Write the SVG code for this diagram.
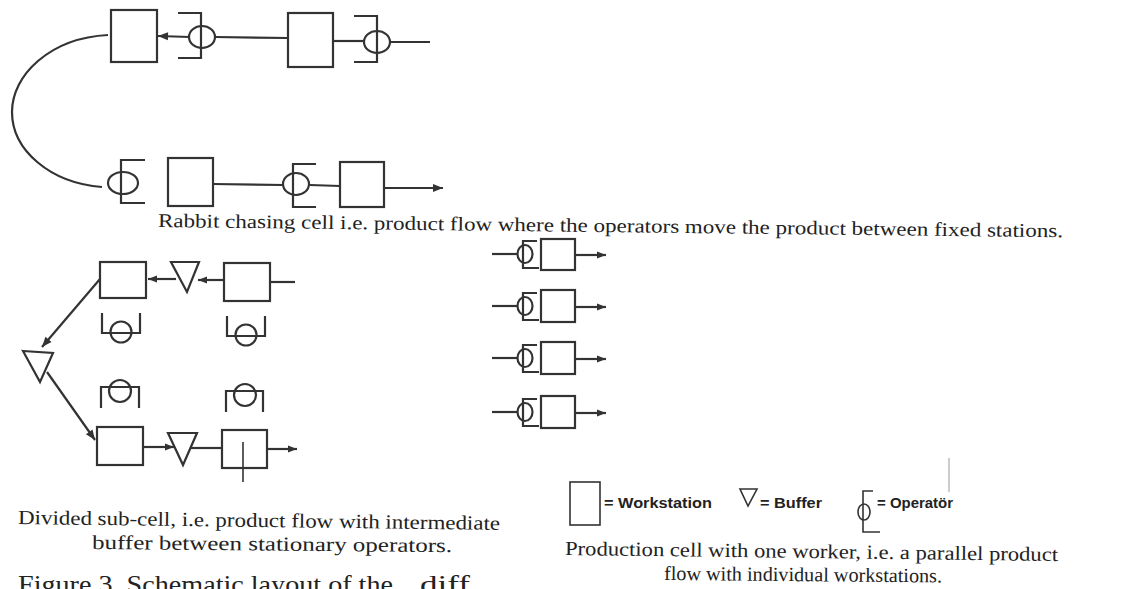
<svg xmlns="http://www.w3.org/2000/svg" width="1121" height="589" viewBox="0 0 1121 589">
<style>
.s{fill:none;stroke:#333;stroke-width:2.2;stroke-linejoin:miter}
.t{fill:none;stroke:#333;stroke-width:1.6}
.cap{font-family:"Liberation Serif",serif;fill:#222}
.leg{font-family:"Liberation Sans",sans-serif;font-weight:bold;font-size:14px;fill:#222}
</style>
<defs>
<marker id="ah" viewBox="0 0 10 10" refX="10" refY="5" markerWidth="19" markerHeight="10" markerUnits="userSpaceOnUse" orient="auto"><path d="M0,1 L10,5 L0,9 z" fill="#333"/></marker>
<marker id="ahs" viewBox="0 0 10 10" refX="10" refY="5" markerWidth="15" markerHeight="9" markerUnits="userSpaceOnUse" orient="auto"><path d="M0,1 L10,5 L0,9 z" fill="#333"/></marker>
</defs>
<rect width="1121" height="589" fill="#fff"/>
<!-- Rabbit chasing cell -->
<g id="ws1"><rect class="s" x="111" y="10" width="46" height="52"/></g>
<g id="op1"><ellipse class="s" cx="202" cy="37" rx="13" ry="11"/><path class="s" d="M178,13 H201 V58 H178"/></g>
<g id="ws2"><rect class="s" x="288" y="13" width="45" height="54"/></g>
<g id="op2"><ellipse class="s" cx="377" cy="42" rx="13" ry="11"/><path class="s" d="M354,16 H377 V62 H354"/></g>
<g id="op3"><ellipse class="s" cx="123" cy="183" rx="15" ry="11"/><path class="s" d="M145,160 H121 V203 H145"/></g>
<g id="ws3"><rect class="s" x="168" y="158" width="45" height="48"/></g>
<g id="op4"><ellipse class="s" cx="296" cy="184" rx="13" ry="11"/><path class="s" d="M316,164 H293 V207 H316"/></g>
<g id="ws4"><rect class="s" x="340" y="162" width="44" height="45"/></g>
<!-- Divided sub-cell -->
<g id="wsA"><rect class="s" x="100" y="262" width="46" height="36"/></g>
<g id="bufA"><polygon class="s" points="171,262 199,262 187,292"/></g>
<g id="wsB"><rect class="s" x="224" y="263" width="46" height="38"/></g>
<g id="opA"><path class="s" d="M102,313 V333 H140 V313"/><circle class="s" cx="121" cy="332" r="10.5"/></g>
<g id="opB"><path class="s" d="M227,316 V336 H265 V316"/><circle class="s" cx="246" cy="335" r="10.5"/></g>
<g id="bufL"><polygon class="s" points="23,351 53,353 40,382"/></g>
<g id="opC"><path class="s" d="M101,408 V387 H139 V408"/><circle class="s" cx="120" cy="391" r="11"/></g>
<g id="opD"><path class="s" d="M226,412 V391 H263 V412"/><circle class="s" cx="245" cy="395" r="11"/></g>
<g id="wsC"><rect class="s" x="97" y="427" width="46" height="38"/></g>
<g id="bufC"><polygon class="s" points="168,433 197,433 183,465"/></g>
<g id="wsD"><rect class="s" x="222" y="430" width="45" height="38"/><path class="t" d="M243,442 V482"/></g>
<!-- Production cell with one worker -->
<g id="op5"><ellipse class="s" cx="525" cy="254" rx="7.5" ry="9"/><path class="s" d="M537,241 H523 V268 H539"/></g>
<g id="ws5"><rect class="s" x="541" y="239" width="34" height="31"/></g>
<g id="op6"><ellipse class="s" cx="525" cy="306" rx="7.5" ry="9"/><path class="s" d="M537,293 H523 V320 H539"/></g>
<g id="ws6"><rect class="s" x="541" y="290" width="34" height="32"/></g>
<g id="op7"><ellipse class="s" cx="525" cy="358" rx="7.5" ry="9"/><path class="s" d="M537,345 H523 V372 H539"/></g>
<g id="ws7"><rect class="s" x="541" y="342" width="34" height="32"/></g>
<g id="op8"><ellipse class="s" cx="525" cy="412" rx="7.5" ry="9"/><path class="s" d="M537,399 H523 V426 H539"/></g>
<g id="ws8"><rect class="s" x="541" y="396" width="34" height="32"/></g>
<!-- connectors -->
<g id="connectors">
<path class="s" d="M190,37 L158,36" marker-end="url(#ah)"/>
<path class="s" d="M215,37 L288,38"/>
<path class="s" d="M333,41 L364,41"/>
<path class="s" d="M390,42 L430,42"/>
<path class="s" d="M108,35 C50,38 12,75 12,112 C12,150 50,183 102,187"/>
<path class="s" d="M213,184 L283,185"/>
<path class="s" d="M310,185 L340,186"/>
<path class="s" d="M384,188 L443,188" marker-end="url(#ah)"/>
<path class="s" d="M176,279 L148,279" marker-end="url(#ahs)"/>
<path class="s" d="M224,280 L198,280" marker-end="url(#ahs)"/>
<path class="s" d="M270,282 L295,282"/>
<path class="s" d="M100,279 L42,347" marker-end="url(#ah)"/>
<path class="s" d="M47,372 L95,440" marker-end="url(#ah)"/>
<path class="s" d="M143,447 L174,447" marker-end="url(#ahs)"/>
<path class="s" d="M191,448 L222,448"/>
<path class="s" d="M267,449 L297,449" marker-end="url(#ahs)"/>
<path class="s" d="M492,254 L517,254"/><path class="s" d="M575,255 L606,255" marker-end="url(#ahs)"/>
<path class="s" d="M492,306 L517,306"/><path class="s" d="M575,307 L606,307" marker-end="url(#ahs)"/>
<path class="s" d="M492,358 L517,358"/><path class="s" d="M575,359 L606,359" marker-end="url(#ahs)"/>
<path class="s" d="M492,412 L517,412"/><path class="s" d="M575,413 L606,413" marker-end="url(#ahs)"/>
</g>
<!-- legend -->
<g id="legend">
<rect class="t" x="570" y="482" width="30" height="43"/>
<text class="leg" x="604" y="508" textLength="108" lengthAdjust="spacingAndGlyphs">= Workstation</text>
<polygon class="t" points="740,489 757,489 748,506"/>
<text class="leg" x="760" y="508" textLength="62" lengthAdjust="spacingAndGlyphs">= Buffer</text>
<path class="t" d="M873,491 H863 V532 H880"/><ellipse class="t" cx="864" cy="512" rx="6" ry="8"/>
<text class="leg" x="877" y="508" textLength="76" lengthAdjust="spacingAndGlyphs">= Operatör</text>
<path d="M949,458 V492" stroke="#999" stroke-width="1"/>
</g>
<!-- captions -->
<text class="cap" x="158" y="227" font-size="19.5" textLength="905" lengthAdjust="spacingAndGlyphs" transform="rotate(0.65 158 227)">Rabbit chasing cell i.e. product flow where the operators move the product between fixed stations.</text>
<text class="cap" x="18" y="524" font-size="20" textLength="482" lengthAdjust="spacingAndGlyphs" transform="rotate(0.7 18 524)">Divided sub-cell, i.e. product flow with intermediate</text>
<text class="cap" x="92" y="549" font-size="20" textLength="360" lengthAdjust="spacingAndGlyphs" transform="rotate(0.5 92 549)">buffer between stationary operators.</text>
<text class="cap" x="18" y="593" font-size="26" textLength="375" lengthAdjust="spacingAndGlyphs">Figure 3. Schematic layout of the</text>
<text class="cap" x="420" y="593" font-size="26" textLength="50" lengthAdjust="spacingAndGlyphs">diff</text>
<text class="cap" x="565" y="555" font-size="20" textLength="493" lengthAdjust="spacingAndGlyphs" transform="rotate(0.7 565 555)">Production cell with one worker, i.e. a parallel product</text>
<text class="cap" x="664" y="580" font-size="20" textLength="278" lengthAdjust="spacingAndGlyphs" transform="rotate(0.5 664 580)">flow with individual workstations.</text>
</svg>
